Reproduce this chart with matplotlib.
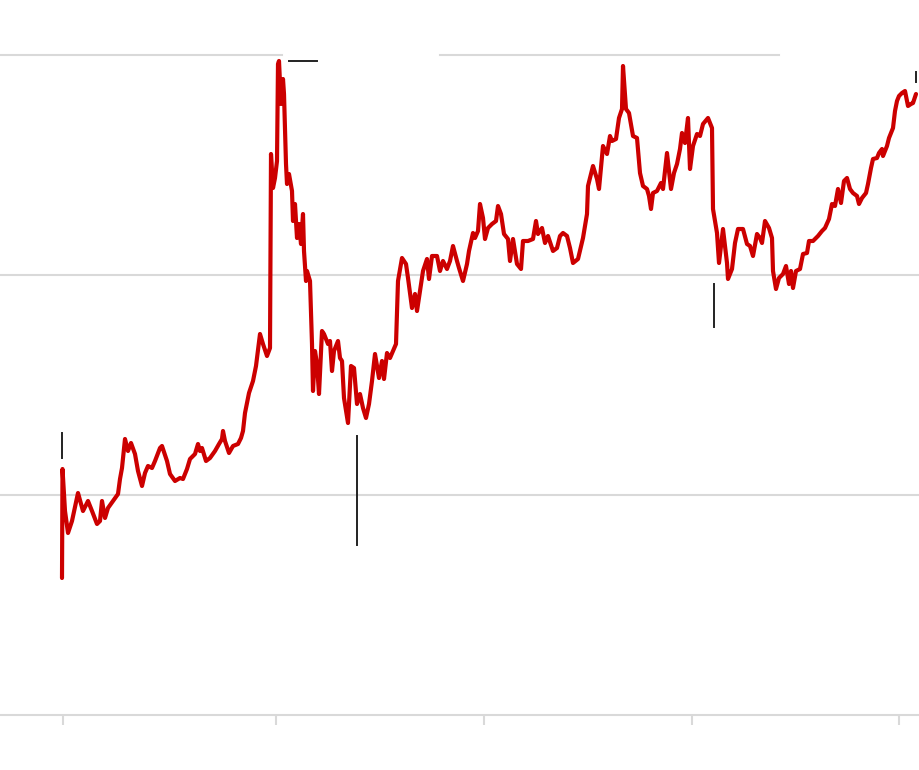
import matplotlib
matplotlib.use("Agg")
import matplotlib.pyplot as plt

# time index (x) and value (y) of the series
x_vals = [0, 0.5, 3, 6, 10, 16, 21, 26, 30, 35, 38, 40, 43, 46, 51, 56, 58, 60, 63, 66, 69, 73, 76, 80,
          83, 86, 90, 93, 98, 100, 105, 108, 113, 118, 121, 125, 128, 133, 136, 138, 140, 144, 148, 153,
          157, 160, 161, 163, 167, 171, 176, 179, 181, 183, 187, 191, 194, 198, 201, 205, 208, 209, 211,
          213, 215, 216, 217, 219, 221, 222, 224, 225, 227, 230, 231, 233, 235, 237, 239, 241, 242, 244,
          245, 248, 250, 251, 253, 255, 257, 260, 262, 266, 268, 270, 272, 276, 278, 280, 282, 286, 289,
          292, 295, 298, 301, 304, 307, 310, 313, 317, 320, 322, 325, 328, 331, 334, 336, 340, 344, 346,
          350, 353, 355, 358, 361, 365, 367, 370, 375, 378, 381, 385, 388, 391, 395, 397, 401, 405, 407,
          411, 413, 416, 418, 421, 423, 426, 430, 434, 436, 439, 442, 446, 448, 451, 455, 459, 461, 466,
          471, 474, 476, 480, 483, 486, 491, 495, 498, 501, 505, 508, 511, 516, 521, 525, 526, 531, 535,
          537, 541, 545, 548, 550, 554, 557, 560, 561, 564, 567, 571, 575, 578, 581, 585, 587, 589, 591,
          595, 599, 601, 605, 609, 612, 615, 618, 620, 623, 626, 628, 631, 635, 638, 641, 646, 650, 651,
          655, 657, 661, 665, 666, 670, 673, 676, 681, 685, 688, 691, 695, 698, 700, 703, 707, 710, 711,
          714, 717, 721, 724, 727, 729, 731, 734, 738, 741, 745, 747, 751, 756, 760, 763, 767, 770, 773,
          776, 779, 782, 785, 788, 791, 795, 797, 800, 804, 806, 809, 811, 815, 817, 820, 821, 825, 827,
          831, 833, 835, 837, 840, 843, 846, 849, 851, 854]
y_vals = [137, 246, 204, 182, 194, 222, 204, 214, 204, 191, 194, 214, 197, 207, 214, 221, 236, 247, 276,
          264, 272, 261, 244, 229, 242, 249, 247, 254, 267, 269, 254, 241, 234, 237, 236, 246, 256, 261,
          271, 264, 267, 254, 257, 264, 271, 276, 284, 274, 262, 269, 271, 277, 284, 302, 322, 334, 349,
          381, 371, 359, 367, 561, 527, 537, 554, 651, 654, 611, 636, 621, 551, 531, 541, 524, 494, 511,
          477, 491, 471, 501, 464, 434, 444, 434, 371, 324, 364, 351, 321, 384, 381, 371, 374, 344, 364,
          374, 357, 354, 317, 292, 349, 347, 311, 321, 307, 297, 311, 334, 361, 337, 354, 336, 362, 357,
          364, 371, 434, 457, 451, 437, 407, 421, 404, 424, 444, 456, 436, 459, 459, 444, 454, 446, 454,
          469, 454, 447, 434, 451, 464, 482, 477, 484, 511, 497, 476, 487, 491, 494, 509, 501, 481, 476,
          454, 476, 451, 446, 474, 474, 476, 494, 481, 487, 472, 479, 464, 467, 479, 482, 479, 467, 452,
          456, 477, 501, 529, 549, 536, 526, 569, 561, 579, 574, 576, 597, 606, 649, 606, 602, 579, 577,
          542, 529, 526, 519, 506, 522, 524, 532, 526, 562, 526, 542, 551, 566, 582, 572, 597, 546, 569,
          581, 579, 591, 597, 587, 506, 482, 452, 486, 452, 436, 446, 472, 486, 486, 471, 469, 459, 481,
          477, 472, 494, 487, 477, 444, 426, 437, 441, 449, 431, 444, 427, 444, 446, 461, 462, 474, 474,
          479, 484, 487, 496, 511, 509, 526, 512, 534, 537, 526, 522, 519, 511, 517, 522, 531, 547, 556,
          557, 562, 566, 559, 569, 577, 587, 604, 614, 619, 622, 624, 609, 611, 612, 621]

# gridline values and x tick positions
grid_levels = [220, 440, 660]
x_ticks = [1, 214, 422, 630, 837]

# annotation marker segments: (x0, x1, y0, y1)
ann_segments = [
    (0, 0, 257, 282),
    (227, 255, 654, 654),
    (295, 295, 170, 279),
    (652, 652, 388, 431),
    (854, 854, 633, 643),
]

GRID = "#d9d9d9"
RED = "#cc0000"

fig = plt.figure(figsize=(9.2, 7.7), dpi=100)
ax = fig.add_axes([0, 55 / 770, 1, 714 / 770])
ax.set_xlim(-62, 858)
ax.set_ylim(0, 714)

# gridlines (top one interrupted where labels would sit)
ax.axhline(grid_levels[0], color=GRID, lw=1.5, zorder=1)
ax.axhline(grid_levels[1], color=GRID, lw=1.5, zorder=1)
ax.axhline(grid_levels[2], xmin=0, xmax=282 / 920, color=GRID, lw=1.5, zorder=1)
ax.axhline(grid_levels[2], xmin=440 / 920, xmax=779 / 920, color=GRID, lw=1.5, zorder=1)

ax.plot(x_vals, y_vals, color=RED, lw=3.0, solid_joinstyle="round", solid_capstyle="round", zorder=3)

for x0, x1, y0, y1 in ann_segments:
    ax.plot([x0, x1], [y0, y1], color="#222222", lw=1.4, zorder=4)

for s in ["top", "right", "left"]:
    ax.spines[s].set_visible(False)
ax.spines["bottom"].set_color(GRID)
ax.spines["bottom"].set_linewidth(1.5)
ax.set_xticks(x_ticks)
ax.set_xticklabels([])
ax.set_yticks([])
ax.tick_params(axis="x", length=7.5, width=1.5, color=GRID, direction="out")

fig.savefig("out.png", dpi=100)
